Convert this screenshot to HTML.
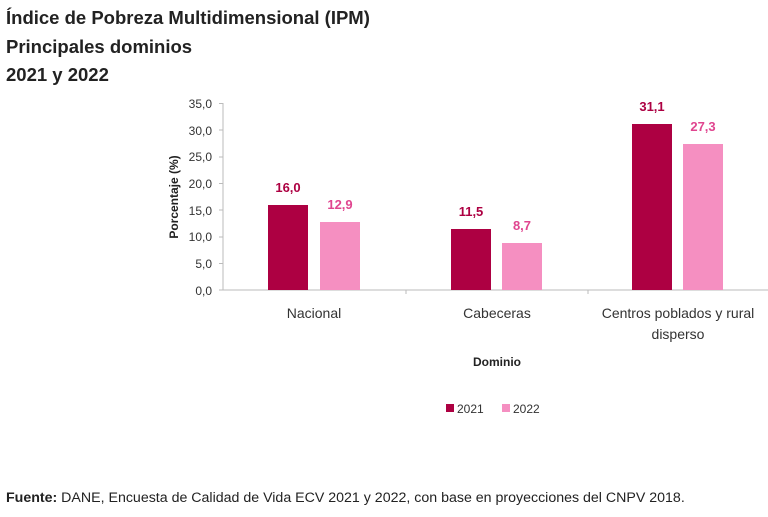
<!DOCTYPE html>
<html><head><meta charset="utf-8"><style>
body{margin:0;background:#fff;width:768px;height:512px;overflow:hidden;font-family:"Liberation Sans",sans-serif}
</style></head><body>
<svg width="768" height="512" xmlns="http://www.w3.org/2000/svg" font-family="Liberation Sans, sans-serif">
<text x="6" y="24" font-size="18.5" font-weight="bold" fill="#222">Índice de Pobreza Multidimensional (IPM)</text>
<text x="6" y="53" font-size="18.5" font-weight="bold" fill="#222">Principales dominios</text>
<text x="6" y="81" font-size="18.5" font-weight="bold" fill="#222">2021 y 2022</text>
<g font-size="12" fill="#333" text-anchor="end">
<text x="212" y="108">35,0</text><text x="212" y="135">30,0</text><text x="212" y="161">25,0</text>
<text x="212" y="188">20,0</text><text x="212" y="215">15,0</text><text x="212" y="241">10,0</text>
<text x="212" y="268">5,0</text><text x="212" y="295">0,0</text>
</g>
<g stroke="#bbb" stroke-width="1">
<line x1="223" y1="103" x2="223" y2="290"/><line x1="223" y1="290" x2="768" y2="290"/>
<line x1="219" y1="103.5" x2="223" y2="103.5"/><line x1="219" y1="130" x2="223" y2="130"/>
<line x1="219" y1="157" x2="223" y2="157"/><line x1="219" y1="183.5" x2="223" y2="183.5"/>
<line x1="219" y1="210" x2="223" y2="210"/><line x1="219" y1="237" x2="223" y2="237"/>
<line x1="219" y1="263.5" x2="223" y2="263.5"/><line x1="219" y1="290" x2="223" y2="290"/>
<line x1="406" y1="290" x2="406" y2="294"/><line x1="588" y1="290" x2="588" y2="294"/>
</g>
<text transform="translate(178,197) rotate(-90)" font-size="12" font-weight="bold" fill="#222" text-anchor="middle">Porcentaje (%)</text>
<g fill="#ad0042">
<rect x="268" y="205" width="40" height="85"/><rect x="451" y="229" width="40" height="61"/><rect x="632" y="124" width="40" height="166"/>
</g>
<g fill="#f58fc1">
<rect x="320" y="222" width="40" height="68"/><rect x="502" y="243" width="40" height="47"/><rect x="683" y="144" width="40" height="146"/>
</g>
<g font-size="13" font-weight="bold" text-anchor="middle">
<text x="288" y="192" fill="#ad0042">16,0</text><text x="340" y="209" fill="#e0458f">12,9</text>
<text x="471" y="216" fill="#ad0042">11,5</text><text x="522" y="230" fill="#e0458f">8,7</text>
<text x="652" y="111" fill="#ad0042">31,1</text><text x="703" y="131" fill="#e0458f">27,3</text>
</g>
<g font-size="14" fill="#333" text-anchor="middle">
<text x="314" y="318">Nacional</text><text x="497" y="318">Cabeceras</text>
<text x="678" y="318">Centros poblados y rural</text><text x="678" y="339">disperso</text>
</g>
<text x="497" y="366" font-size="12" font-weight="bold" fill="#222" text-anchor="middle">Dominio</text>
<rect x="446" y="404" width="8" height="8" fill="#ad0042"/><text x="457" y="413" font-size="12" fill="#333">2021</text>
<rect x="502" y="404" width="8" height="8" fill="#f58fc1"/><text x="513" y="413" font-size="12" fill="#333">2022</text>
<text x="6" y="502" font-size="14.2" fill="#222"><tspan font-weight="bold">Fuente:</tspan> DANE, Encuesta de Calidad de Vida ECV 2021 y 2022, con base en proyecciones del CNPV 2018.</text>
</svg>
</body></html>
